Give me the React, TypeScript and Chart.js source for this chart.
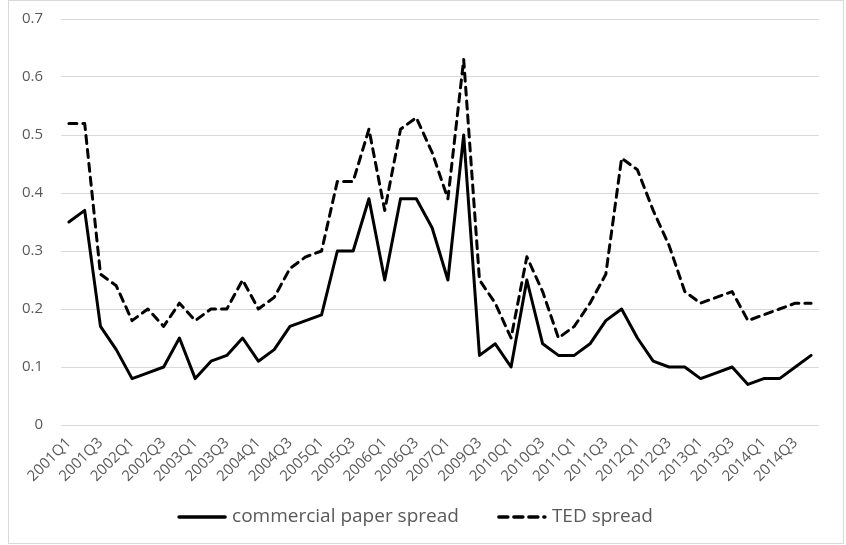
import { useEffect, useRef } from 'react';
import { Chart, registerables } from 'chart.js';
Chart.register(...registerables);

const categories = [
  '2001Q1', '2001Q2', '2001Q3', '2001Q4', '2002Q1', '2002Q2', '2002Q3', '2002Q4',
  '2003Q1', '2003Q2', '2003Q3', '2003Q4', '2004Q1', '2004Q2', '2004Q3', '2004Q4',
  '2005Q1', '2005Q2', '2005Q3', '2005Q4', '2006Q1', '2006Q2', '2006Q3', '2006Q4',
  '2007Q1', '2009Q2', '2009Q3', '2009Q4', '2010Q1', '2010Q2', '2010Q3', '2010Q4',
  '2011Q1', '2011Q2', '2011Q3', '2011Q4', '2012Q1', '2012Q2', '2012Q3', '2012Q4',
  '2013Q1', '2013Q2', '2013Q3', '2013Q4', '2014Q1', '2014Q2', '2014Q3', '2014Q4',
];

const commercialPaperSpread = [
  0.35, 0.37, 0.17, 0.13, 0.08, 0.09, 0.10, 0.15, 0.08, 0.11, 0.12, 0.15,
  0.11, 0.13, 0.17, 0.18, 0.19, 0.30, 0.30, 0.39, 0.25, 0.39, 0.39, 0.34,
  0.25, 0.50, 0.12, 0.14, 0.10, 0.25, 0.14, 0.12, 0.12, 0.14, 0.18, 0.20,
  0.15, 0.11, 0.10, 0.10, 0.08, 0.09, 0.10, 0.07, 0.08, 0.08, 0.10, 0.12,
];

const tedSpread = [
  0.52, 0.52, 0.26, 0.24, 0.18, 0.20, 0.17, 0.21, 0.18, 0.20, 0.20, 0.25,
  0.20, 0.22, 0.27, 0.29, 0.30, 0.42, 0.42, 0.51, 0.37, 0.51, 0.53, 0.47,
  0.39, 0.63, 0.25, 0.21, 0.15, 0.29, 0.23, 0.15, 0.17, 0.21, 0.26, 0.46,
  0.44, 0.37, 0.31, 0.23, 0.21, 0.22, 0.23, 0.18, 0.19, 0.20, 0.21, 0.21,
];

const yMin = 0;
const yMax = 0.7;
const yStep = 0.1;

const FONT = '"Open Sans", "Noto Sans", sans-serif';
const TEXT = '#595959';

const legendPlugin = {
  id: 'customLegend',
  afterDraw(chart: any) {
    const ctx = chart.ctx as CanvasRenderingContext2D;
    ctx.save();
    ctx.font = `19px ${FONT}`;
    const items = chart.data.datasets.map((ds: any) => ({
      label: ds.label as string,
      color: ds.borderColor as string,
      dash: (ds.borderDash || []) as number[],
      width: ds.borderWidth as number,
    }));
    const sampleW = 50;
    const sampleGap = 5;
    const itemGap = 38;
    const widths = items.map((it: any) => sampleW + sampleGap + ctx.measureText(it.label).width);
    const total = widths.reduce((a: number, b: number) => a + b, 0) + itemGap * (items.length - 1);
    const centerX = 406;
    const y = 516;
    let x = centerX - total / 2;
    items.forEach((it: any, i: number) => {
      ctx.beginPath();
      ctx.setLineDash(it.dash.length ? [9, 6] : []);
      ctx.lineWidth = it.width + 0.5;
      ctx.strokeStyle = it.color;
      ctx.lineCap = 'round';
      ctx.moveTo(x + 2, y);
      ctx.lineTo(x + sampleW - 2, y);
      ctx.stroke();
      ctx.setLineDash([]);
      ctx.fillStyle = TEXT;
      ctx.textBaseline = 'middle';
      ctx.textAlign = 'left';
      ctx.fillText(it.label, x + sampleW + sampleGap, y);
      x += widths[i] + itemGap;
    });
    ctx.restore();
  },
};

export default function App() {
  const ref = useRef<HTMLCanvasElement>(null);
  useEffect(() => {
    const chart = new Chart(ref.current!, {
      type: 'line',
      data: {
        labels: categories,
        datasets: [
          {
            label: 'commercial paper spread',
            data: commercialPaperSpread,
            borderColor: '#000000',
            backgroundColor: '#000000',
            borderWidth: 3,
            pointRadius: 0,
            tension: 0,
            borderJoinStyle: 'round',
            borderCapStyle: 'round',
          },
          {
            label: 'TED spread',
            data: tedSpread,
            borderColor: '#000000',
            backgroundColor: '#000000',
            borderWidth: 3,
            borderDash: [8, 6],
            borderCapStyle: 'round',
            borderJoinStyle: 'round',
            pointRadius: 0,
            tension: 0,
          },
        ],
      },
      options: {
        animation: false,
        responsive: false,
        layout: { padding: { top: 18, right: 24, bottom: 52, left: 0 } },
        plugins: { legend: { display: false }, tooltip: { enabled: false } },
        scales: {
          x: {
            offset: true,
            grid: { display: false },
            border: { display: false },
            ticks: {
              autoSkip: false,
              maxRotation: 45,
              minRotation: 45,
              padding: 1,
              color: TEXT,
              font: { family: FONT, size: 15 },
              callback: (_v: any, i: number) => (i % 2 === 0 ? categories[i] : ''),
            },
            afterFit: (s: any) => {
              s.height = 66;
              s.paddingTop = 0;
              s.paddingBottom = 0;
            },
          },
          y: {
            min: yMin,
            max: yMax,
            grid: { color: '#d9d9d9', lineWidth: 1, drawTicks: false },
            border: { display: false },
            ticks: {
              stepSize: yStep,
              padding: 18,
              color: TEXT,
              font: { family: FONT, size: 15 },
              callback: (v: any) => String(Number(Number(v).toFixed(1))),
            },
            afterFit: (s: any) => {
              s.width = 52;
              s.paddingTop = 0;
              s.paddingBottom = 0;
            },
          },
        },
      },
      plugins: [legendPlugin],
    });
    return () => chart.destroy();
  }, []);
  return (
    <div
      style={{
        position: 'absolute',
        left: 8,
        top: 0,
        width: 836,
        height: 544,
        border: '1px solid #d9d9d9',
        boxSizing: 'border-box',
        background: '#fff',
      }}
    >
      <canvas ref={ref} width={834} height={542} style={{ display: 'block' }} />
    </div>
  );
}
